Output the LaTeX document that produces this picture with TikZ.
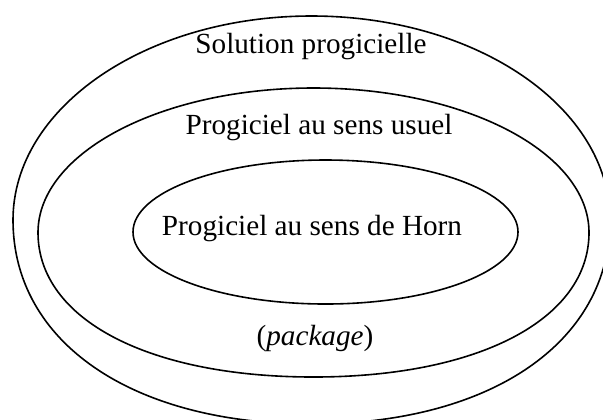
\documentclass[tikz,border=0pt]{standalone}
\usepackage{fontspec}
\setmainfont{Liberation Serif}
\begin{document}
\begin{tikzpicture}[x=0.5pt, y=-0.5pt, line width=0.8pt, every node/.style={font=\fontsize{14.6}{17}\selectfont}]
        \useasboundingbox (0, 0) rectangle (603, 419);
        \clip (0, 0) rectangle (603, 419);
        % outer: solution progicielle
        \draw[] (13, 220) .. controls (13, 107.3) and (146.6, 16) .. (311.5, 16)
                .. controls (476.4, 16) and (610, 107.3) .. (610, 220)
                .. controls (610, 342.4) and (490.6, 424) .. (311.5, 424)
                .. controls (132.4, 424) and (13, 342.4) .. (13, 220) -- cycle;
        % middle: progiciel au sens usuel
        \draw[] (38, 232.5) .. controls (38, 152.7) and (161.1, 88) .. (313.5, 88)
                .. controls (465.9, 88) and (589, 152.7) .. (589, 232.5)
                .. controls (589, 319.2) and (478.8, 377) .. (313.5, 377)
                .. controls (148.2, 377) and (38, 319.2) .. (38, 232.5) -- cycle;
        % inner: Horn
        \draw[] (325.5, 232) ellipse [x radius=192.5, y radius=72];
        \node (solution) at (311, 47) {Solution progicielle};
        \node (usuel) at (319, 128) {Progiciel au sens usuel};
        \node (horn) at (312, 229) {Progiciel au sens de Horn};
        \node (package) at (315, 338) {(\textit{package})};
\end{tikzpicture}
\end{document}
